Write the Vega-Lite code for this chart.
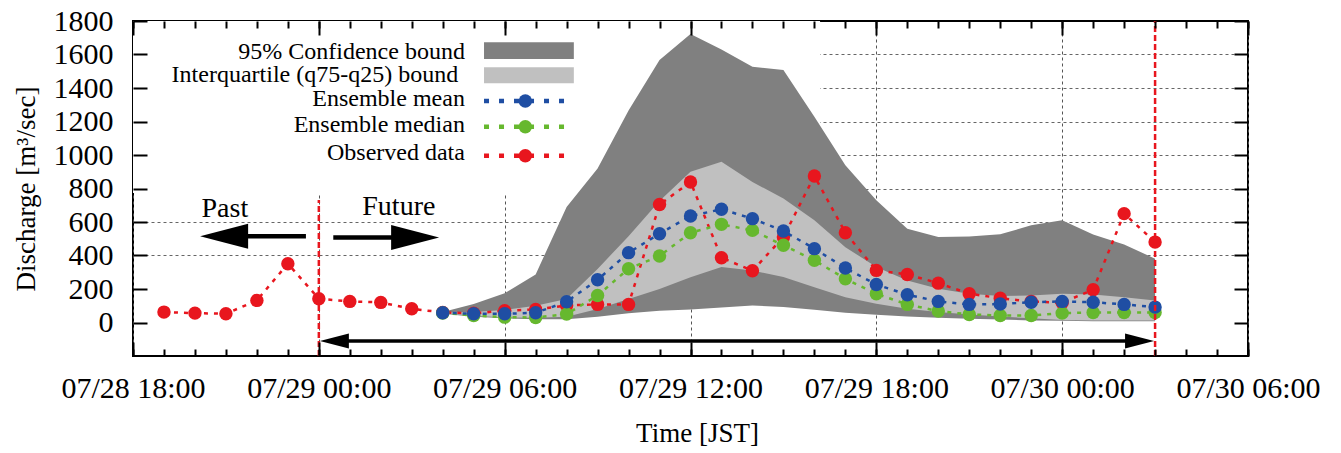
{
  "$schema": "https://vega.github.io/schema/vega-lite/v6.json",
  "width": 1115,
  "height": 335,
  "autosize": {"type": "none"},
  "padding": {"left": 133, "top": 21, "right": 93, "bottom": 97},
  "background": "white",
  "config": {
    "view": {"stroke": "black", "strokeWidth": 2},
    "font": "Liberation Serif"
  },
  "datasets": {
    "ens": [
      {"t": "2021-07-29T04:00:00", "lo95": 52, "hi95": 62, "q25": 55, "q75": 60, "mean": 58, "median": 57},
      {"t": "2021-07-29T05:00:00", "lo95": 35, "hi95": 110, "q25": 40, "q75": 62, "mean": 52, "median": 42},
      {"t": "2021-07-29T06:00:00", "lo95": 25, "hi95": 175, "q25": 30, "q75": 75, "mean": 52, "median": 32},
      {"t": "2021-07-29T07:00:00", "lo95": 20, "hi95": 287, "q25": 28, "q75": 100, "mean": 58, "median": 30},
      {"t": "2021-07-29T08:00:00", "lo95": 20, "hi95": 690, "q25": 35, "q75": 140, "mean": 124, "median": 50},
      {"t": "2021-07-29T09:00:00", "lo95": 35, "hi95": 920, "q25": 80, "q75": 320, "mean": 255, "median": 161},
      {"t": "2021-07-29T10:00:00", "lo95": 55, "hi95": 1265, "q25": 140, "q75": 515, "mean": 417, "median": 321},
      {"t": "2021-07-29T11:00:00", "lo95": 70, "hi95": 1567, "q25": 200, "q75": 725, "mean": 530, "median": 397},
      {"t": "2021-07-29T12:00:00", "lo95": 78, "hi95": 1723, "q25": 270, "q75": 900, "mean": 636, "median": 536},
      {"t": "2021-07-29T13:00:00", "lo95": 90, "hi95": 1630, "q25": 331, "q75": 959, "mean": 676, "median": 586},
      {"t": "2021-07-29T14:00:00", "lo95": 102, "hi95": 1527, "q25": 311, "q75": 839, "mean": 620, "median": 550},
      {"t": "2021-07-29T15:00:00", "lo95": 92, "hi95": 1507, "q25": 271, "q75": 740, "mean": 546, "median": 461},
      {"t": "2021-07-29T16:00:00", "lo95": 76, "hi95": 1228, "q25": 211, "q75": 610, "mean": 441, "median": 371},
      {"t": "2021-07-29T17:00:00", "lo95": 58, "hi95": 939, "q25": 151, "q75": 450, "mean": 325, "median": 261},
      {"t": "2021-07-29T18:00:00", "lo95": 46, "hi95": 730, "q25": 112, "q75": 331, "mean": 227, "median": 171},
      {"t": "2021-07-29T19:00:00", "lo95": 36, "hi95": 560, "q25": 82, "q75": 251, "mean": 166, "median": 108},
      {"t": "2021-07-29T20:00:00", "lo95": 28, "hi95": 510, "q25": 62, "q75": 201, "mean": 126, "median": 68},
      {"t": "2021-07-29T21:00:00", "lo95": 22, "hi95": 514, "q25": 48, "q75": 171, "mean": 108, "median": 48},
      {"t": "2021-07-29T22:00:00", "lo95": 18, "hi95": 527, "q25": 36, "q75": 158, "mean": 110, "median": 42},
      {"t": "2021-07-29T23:00:00", "lo95": 12, "hi95": 580, "q25": 25, "q75": 161, "mean": 121, "median": 42},
      {"t": "2021-07-30T00:00:00", "lo95": 10, "hi95": 610, "q25": 15, "q75": 171, "mean": 126, "median": 56},
      {"t": "2021-07-30T01:00:00", "lo95": 8, "hi95": 525, "q25": 12, "q75": 167, "mean": 121, "median": 60},
      {"t": "2021-07-30T02:00:00", "lo95": 8, "hi95": 466, "q25": 12, "q75": 151, "mean": 108, "median": 60},
      {"t": "2021-07-30T03:00:00", "lo95": 8, "hi95": 381, "q25": 12, "q75": 132, "mean": 92, "median": 60}
    ],
    "obs": [
      {"t": "2021-07-28T19:00:00", "q": 62},
      {"t": "2021-07-28T20:00:00", "q": 56},
      {"t": "2021-07-28T21:00:00", "q": 52},
      {"t": "2021-07-28T22:00:00", "q": 132},
      {"t": "2021-07-28T23:00:00", "q": 351},
      {"t": "2021-07-29T00:00:00", "q": 142},
      {"t": "2021-07-29T01:00:00", "q": 126},
      {"t": "2021-07-29T02:00:00", "q": 120},
      {"t": "2021-07-29T03:00:00", "q": 82},
      {"t": "2021-07-29T04:00:00", "q": 60},
      {"t": "2021-07-29T05:00:00", "q": 55},
      {"t": "2021-07-29T06:00:00", "q": 70},
      {"t": "2021-07-29T07:00:00", "q": 78},
      {"t": "2021-07-29T08:00:00", "q": 102},
      {"t": "2021-07-29T09:00:00", "q": 108},
      {"t": "2021-07-29T10:00:00", "q": 108},
      {"t": "2021-07-29T11:00:00", "q": 704},
      {"t": "2021-07-29T12:00:00", "q": 839},
      {"t": "2021-07-29T13:00:00", "q": 387},
      {"t": "2021-07-29T14:00:00", "q": 309},
      {"t": "2021-07-29T15:00:00", "q": 510},
      {"t": "2021-07-29T16:00:00", "q": 875},
      {"t": "2021-07-29T17:00:00", "q": 536},
      {"t": "2021-07-29T18:00:00", "q": 311},
      {"t": "2021-07-29T19:00:00", "q": 287},
      {"t": "2021-07-29T20:00:00", "q": 235},
      {"t": "2021-07-29T21:00:00", "q": 172},
      {"t": "2021-07-29T22:00:00", "q": 145},
      {"t": "2021-07-29T23:00:00", "q": 125},
      {"t": "2021-07-30T00:00:00", "q": 118},
      {"t": "2021-07-30T01:00:00", "q": 196},
      {"t": "2021-07-30T02:00:00", "q": 650},
      {"t": "2021-07-30T03:00:00", "q": 480}
    ]
  },
  "resolve": {"axis": {"x": "independent", "y": "independent"}},
  "layer": [
    {
      "data": {"values": [{"t1": "2021-07-28T18:00:00", "t2": "2021-07-29T16:11:00", "v1": 773, "v2": 1800}]},
      "mark": {"type": "rect", "fill": "white"},
      "encoding": {
        "x": {"field": "t1", "type": "temporal",
          "scale": {"domain": ["2021-07-28T18:00:00", "2021-07-30T06:00:00"]},
          "axis": {"orient": "bottom", "grid": true, "labels": false, "ticks": false, "domain": false, "title": null,
            "tickCount": 6, "gridColor": "#555555", "gridDash": [3, 3], "gridWidth": 1, "zindex": 0}},
        "x2": {"field": "t2"},
        "y": {"field": "v1", "type": "quantitative",
          "scale": {"domain": [-200, 1800], "nice": false, "zero": false},
          "axis": {"orient": "left", "grid": true, "labels": false, "ticks": false, "domain": false, "title": null,
            "values": [400, 600, 800, 1000, 1200, 1400, 1600], "gridColor": "#666666", "gridDash": [3, 3], "gridWidth": 1, "zindex": 0}},
        "y2": {"field": "v2"}
      }
    },
    {
      "data": {"name": "ens"},
      "mark": {"type": "area", "fill": "#808080", "opacity": 1},
      "encoding": {
        "x": {"field": "t", "type": "temporal",
          "axis": {"orient": "bottom", "offset": -14, "grid": false, "tickSize": 14, "tickWidth": 2, "tickColor": "black", "domain": false,
            "tickCount": 6, "format": "%m/%d %H:%M",
            "labelFontSize": 30, "labelColor": "black", "labelPadding": 17,
            "labelFlush": false, "labelOverlap": false,
            "title": "Time [JST]", "titleFontSize": 27, "titleFontWeight": "normal", "titleColor": "black",
            "titlePadding": 17, "titleX": 564, "zindex": 1}},
        "y": {"field": "lo95", "type": "quantitative",
          "axis": {"orient": "left", "offset": -14, "grid": false, "values": [0, 200, 400, 600, 800, 1000, 1200, 1400, 1600, 1800],
            "format": "d", "tickSize": 14, "tickWidth": 2, "tickColor": "black", "domain": false, "labelPadding": 20,
            "labelFontSize": 30, "labelColor": "black", "labelFlush": false,
            "title": "Discharge [m³/sec]", "titleFontSize": 27, "titleFontWeight": "normal", "titleColor": "black",
            "titlePadding": 13, "zindex": 1}},
        "y2": {"field": "hi95"}
      }
    },
    {
      "data": {"name": "ens"},
      "mark": {"type": "area", "fill": "#c0c0c0", "opacity": 1},
      "encoding": {
        "x": {"field": "t", "type": "temporal",
          "axis": {"orient": "bottom", "offset": -7, "grid": false, "labels": false, "domain": false, "title": null,
            "tickCount": 36, "tickSize": 7, "tickWidth": 2, "tickColor": "black", "zindex": 1}},
        "y": {"field": "q25", "type": "quantitative",
          "axis": {"orient": "right", "offset": -14, "grid": false, "labels": false, "domain": false, "title": null,
            "values": [0, 200, 400, 600, 800, 1000, 1200, 1400, 1600, 1800],
            "tickSize": 14, "tickWidth": 2, "tickColor": "black", "zindex": 1}},
        "y2": {"field": "q75"}
      }
    },
    {
      "data": {"name": "obs"},
      "mark": {"type": "line", "color": "#e8161e", "strokeWidth": 2.5, "strokeDash": [4, 6],
        "point": {"filled": true, "size": 180, "color": "#e8161e", "opacity": 1}},
      "encoding": {
        "x": {"field": "t", "type": "temporal",
          "axis": {"orient": "top", "offset": -7, "grid": false, "labels": false, "domain": false, "title": null,
            "tickCount": 36, "tickSize": 7, "tickWidth": 2, "tickColor": "black", "zindex": 1}},
        "y": {"field": "q", "type": "quantitative", "axis": null}
      }
    },
    {
      "data": {"name": "ens"},
      "mark": {"type": "line", "color": "#66b82e", "strokeWidth": 2.5, "strokeDash": [4, 6],
        "point": {"filled": true, "size": 180, "color": "#66b82e", "opacity": 1}},
      "encoding": {
        "x": {"field": "t", "type": "temporal",
          "axis": {"orient": "top", "offset": -14, "grid": false, "labels": false, "domain": false, "title": null,
            "tickCount": 6, "tickSize": 14, "tickWidth": 2, "tickColor": "black", "zindex": 1}},
        "y": {"field": "median", "type": "quantitative", "axis": null}
      }
    },
    {
      "data": {"name": "ens"},
      "mark": {"type": "line", "color": "#1f4ea3", "strokeWidth": 2.5, "strokeDash": [4, 6],
        "point": {"filled": true, "size": 180, "color": "#1f4ea3", "opacity": 1}},
      "encoding": {
        "x": {"field": "t", "type": "temporal", "axis": null},
        "y": {"field": "mean", "type": "quantitative", "axis": null}
      }
    },
    {
      "data": {"values": [
        {"t": "2021-07-29T00:00:00", "v1": -200, "v2": 731},
        {"t": "2021-07-30T03:00:00", "v1": -200, "v2": 1800}
      ]},
      "mark": {"type": "rule", "color": "#e8161e", "strokeWidth": 2.5, "strokeDash": [6, 3]},
      "encoding": {
        "x": {"field": "t", "type": "temporal", "axis": null},
        "y": {"field": "v1", "type": "quantitative", "axis": null},
        "y2": {"field": "v2"}
      }
    },
    {
      "data": {"values": [
        {"t1": "2021-07-28T21:30:00", "t2": "2021-07-28T23:35:00", "v": 515},
        {"t1": "2021-07-29T00:28:00", "t2": "2021-07-29T02:30:00", "v": 508}
      ]},
      "mark": {"type": "rule", "color": "black", "strokeWidth": 4.5},
      "encoding": {
        "x": {"field": "t1", "type": "temporal", "axis": null},
        "x2": {"field": "t2"},
        "y": {"field": "v", "type": "quantitative", "axis": null}
      }
    },
    {
      "data": {"values": [
        {"t1": "2021-07-29T00:20:00", "t2": "2021-07-30T02:40:00", "v": -110}
      ]},
      "mark": {"type": "rule", "color": "black", "strokeWidth": 3.5},
      "encoding": {
        "x": {"field": "t1", "type": "temporal", "axis": null},
        "x2": {"field": "t2"},
        "y": {"field": "v", "type": "quantitative", "axis": null}
      }
    },
    {
      "data": {"values": [
        {"t": "2021-07-28T20:10:00", "v": 515, "dir": "left"},
        {"t": "2021-07-29T03:53:00", "v": 508, "dir": "right"}
      ]},
      "mark": {"type": "point", "filled": true, "color": "black", "opacity": 1, "size": 2304},
      "encoding": {
        "x": {"field": "t", "type": "temporal", "axis": null},
        "y": {"field": "v", "type": "quantitative", "axis": null},
        "shape": {"field": "dir", "type": "nominal", "legend": null,
          "scale": {"domain": ["left", "right"], "range": ["M0,0L2,-0.52L2,0.52Z", "M0,0L-2,-0.52L-2,0.52Z"]}}
      }
    },
    {
      "data": {"values": [
        {"t": "2021-07-29T00:02:00", "v": -110, "dir": "left"},
        {"t": "2021-07-30T02:58:00", "v": -110, "dir": "right"}
      ]},
      "mark": {"type": "point", "filled": true, "color": "black", "opacity": 1, "size": 841},
      "encoding": {
        "x": {"field": "t", "type": "temporal", "axis": null},
        "y": {"field": "v", "type": "quantitative", "axis": null},
        "shape": {"field": "dir", "type": "nominal", "legend": null}
      }
    },
    {
      "data": {"values": [
        {"label": "Past", "t": "2021-07-28T20:58:00", "v": 630},
        {"label": "Future", "t": "2021-07-29T02:35:00", "v": 642}
      ]},
      "mark": {"type": "text", "font": "Liberation Serif", "fontSize": 28, "align": "center", "baseline": "alphabetic", "color": "black"},
      "encoding": {
        "x": {"field": "t", "type": "temporal", "axis": null},
        "y": {"field": "v", "type": "quantitative", "axis": null},
        "text": {"field": "label"}
      }
    },
    {
      "data": {"values": [
        {"label": "95% Confidence bound", "t": "2021-07-29T04:43:00", "v": 1573},
        {"label": "Interquartile (q75-q25) bound", "t": "2021-07-29T04:30:00", "v": 1436},
        {"label": "Ensemble mean", "t": "2021-07-29T04:43:00", "v": 1293},
        {"label": "Ensemble median", "t": "2021-07-29T04:43:00", "v": 1139},
        {"label": "Observed data", "t": "2021-07-29T04:43:00", "v": 970}
      ]},
      "mark": {"type": "text", "font": "Liberation Serif", "fontSize": 24, "align": "right", "baseline": "alphabetic", "color": "black"},
      "encoding": {
        "x": {"field": "t", "type": "temporal", "axis": null},
        "y": {"field": "v", "type": "quantitative", "axis": null},
        "text": {"field": "label"}
      }
    },
    {
      "data": {"values": [
        {"k": "95", "t1": "2021-07-29T05:20:00", "t2": "2021-07-29T08:14:00", "v1": 1573, "v2": 1673},
        {"k": "iqr", "t1": "2021-07-29T05:20:00", "t2": "2021-07-29T08:14:00", "v1": 1428, "v2": 1524}
      ]},
      "mark": {"type": "rect", "opacity": 1},
      "encoding": {
        "x": {"field": "t1", "type": "temporal", "axis": null},
        "x2": {"field": "t2"},
        "y": {"field": "v1", "type": "quantitative", "axis": null},
        "y2": {"field": "v2"},
        "fill": {"field": "k", "type": "nominal", "legend": null,
          "scale": {"domain": ["95", "iqr"], "range": ["#808080", "#c0c0c0"]}}
      }
    },
    {
      "data": {"values": [
        {"s": "obs", "t": "2021-07-29T05:20:00", "v": 996},
        {"s": "obs", "t": "2021-07-29T08:14:00", "v": 996},
        {"s": "median", "t": "2021-07-29T05:20:00", "v": 1169},
        {"s": "median", "t": "2021-07-29T08:14:00", "v": 1169},
        {"s": "mean", "t": "2021-07-29T05:20:00", "v": 1322},
        {"s": "mean", "t": "2021-07-29T08:14:00", "v": 1322}
      ]},
      "mark": {"type": "line", "strokeWidth": 4.5, "strokeDash": [5, 10], "strokeCap": "butt"},
      "encoding": {
        "x": {"field": "t", "type": "temporal", "axis": null},
        "y": {"field": "v", "type": "quantitative", "axis": null},
        "color": {"field": "s", "type": "nominal", "legend": null,
          "scale": {"domain": ["obs", "median", "mean"], "range": ["#e8161e", "#66b82e", "#1f4ea3"]}}
      }
    },
    {
      "data": {"values": [
        {"s": "obs", "t": "2021-07-29T06:40:00", "v": 996},
        {"s": "median", "t": "2021-07-29T06:40:00", "v": 1169},
        {"s": "mean", "t": "2021-07-29T06:40:00", "v": 1322}
      ]},
      "mark": {"type": "point", "filled": true, "size": 180, "opacity": 1},
      "encoding": {
        "x": {"field": "t", "type": "temporal", "axis": null},
        "y": {"field": "v", "type": "quantitative", "axis": null},
        "color": {"field": "s", "type": "nominal", "legend": null}
      }
    }
  ]
}
